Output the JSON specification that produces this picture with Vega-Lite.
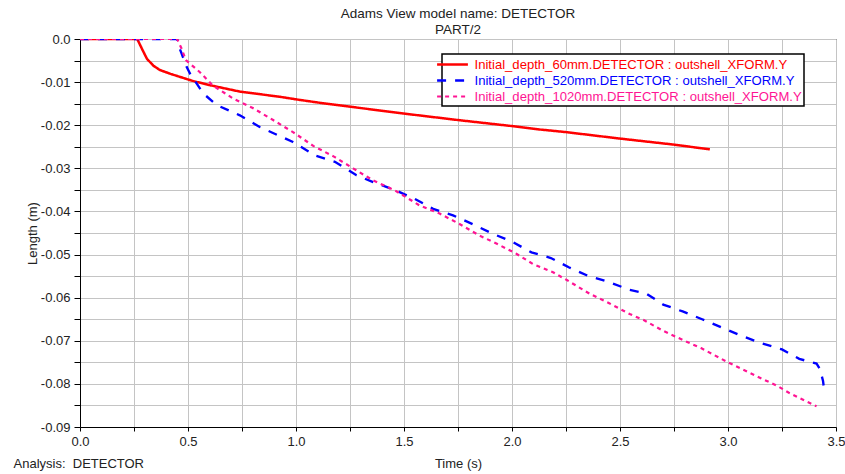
{
  "$schema": "https://vega.github.io/schema/vega-lite/v6.json",
  "width": 756,
  "height": 388,
  "autosize": "none",
  "padding": {"left": 80, "top": 39, "right": 9, "bottom": 47},
  "background": "white",
  "title": {
    "text": ["Adams View model name: DETECTOR", "PART/2"],
    "anchor": "middle",
    "frame": "group",
    "font": "Liberation Sans",
    "fontSize": 13.5,
    "fontWeight": "normal",
    "color": "#222",
    "lineHeight": 16,
    "offset": -3.5
  },
  "config": {
    "view": {"stroke": "black", "strokeWidth": 1},
    "axis": {
      "labelFont": "Liberation Sans",
      "titleFont": "Liberation Sans",
      "labelFontSize": 13,
      "titleFontSize": 13,
      "titleFontWeight": "normal",
      "labelColor": "#222",
      "titleColor": "#222",
      "domainColor": "black",
      "tickColor": "black",
      "gridColor": "#c4c4c4",
      "gridOpacity": 1,
      "gridWidth": 1
    }
  },
  "datasets": {
    "curves": [
      {"series": "Initial_depth_60mm.DETECTOR : outshell_XFORM.Y", "t": 0.0, "y": 0.0},
      {"series": "Initial_depth_60mm.DETECTOR : outshell_XFORM.Y", "t": 0.265, "y": 0.0},
      {"series": "Initial_depth_60mm.DETECTOR : outshell_XFORM.Y", "t": 0.29, "y": -0.0026},
      {"series": "Initial_depth_60mm.DETECTOR : outshell_XFORM.Y", "t": 0.31, "y": -0.0046},
      {"series": "Initial_depth_60mm.DETECTOR : outshell_XFORM.Y", "t": 0.34, "y": -0.0062},
      {"series": "Initial_depth_60mm.DETECTOR : outshell_XFORM.Y", "t": 0.37, "y": -0.0072},
      {"series": "Initial_depth_60mm.DETECTOR : outshell_XFORM.Y", "t": 0.42, "y": -0.0081},
      {"series": "Initial_depth_60mm.DETECTOR : outshell_XFORM.Y", "t": 0.52, "y": -0.0097},
      {"series": "Initial_depth_60mm.DETECTOR : outshell_XFORM.Y", "t": 0.6, "y": -0.0107},
      {"series": "Initial_depth_60mm.DETECTOR : outshell_XFORM.Y", "t": 0.74, "y": -0.0122},
      {"series": "Initial_depth_60mm.DETECTOR : outshell_XFORM.Y", "t": 0.925, "y": -0.0134},
      {"series": "Initial_depth_60mm.DETECTOR : outshell_XFORM.Y", "t": 1.0, "y": -0.014},
      {"series": "Initial_depth_60mm.DETECTOR : outshell_XFORM.Y", "t": 1.11, "y": -0.0148},
      {"series": "Initial_depth_60mm.DETECTOR : outshell_XFORM.Y", "t": 1.25, "y": -0.0157},
      {"series": "Initial_depth_60mm.DETECTOR : outshell_XFORM.Y", "t": 1.5, "y": -0.0173},
      {"series": "Initial_depth_60mm.DETECTOR : outshell_XFORM.Y", "t": 1.75, "y": -0.0188},
      {"series": "Initial_depth_60mm.DETECTOR : outshell_XFORM.Y", "t": 2.0, "y": -0.0202},
      {"series": "Initial_depth_60mm.DETECTOR : outshell_XFORM.Y", "t": 2.13, "y": -0.021},
      {"series": "Initial_depth_60mm.DETECTOR : outshell_XFORM.Y", "t": 2.25, "y": -0.0216},
      {"series": "Initial_depth_60mm.DETECTOR : outshell_XFORM.Y", "t": 2.5, "y": -0.0231},
      {"series": "Initial_depth_60mm.DETECTOR : outshell_XFORM.Y", "t": 2.75, "y": -0.0245},
      {"series": "Initial_depth_60mm.DETECTOR : outshell_XFORM.Y", "t": 2.916, "y": -0.0256},

      {"series": "Initial_depth_520mm.DETECTOR : outshell_XFORM.Y", "t": 0.0, "y": 0.0},
      {"series": "Initial_depth_520mm.DETECTOR : outshell_XFORM.Y", "t": 0.45, "y": 0.0},
      {"series": "Initial_depth_520mm.DETECTOR : outshell_XFORM.Y", "t": 0.455, "y": -0.0014},
      {"series": "Initial_depth_520mm.DETECTOR : outshell_XFORM.Y", "t": 0.47, "y": -0.0033},
      {"series": "Initial_depth_520mm.DETECTOR : outshell_XFORM.Y", "t": 0.493, "y": -0.0064},
      {"series": "Initial_depth_520mm.DETECTOR : outshell_XFORM.Y", "t": 0.509, "y": -0.008},
      {"series": "Initial_depth_520mm.DETECTOR : outshell_XFORM.Y", "t": 0.57, "y": -0.0126},
      {"series": "Initial_depth_520mm.DETECTOR : outshell_XFORM.Y", "t": 0.632, "y": -0.0153},
      {"series": "Initial_depth_520mm.DETECTOR : outshell_XFORM.Y", "t": 0.74, "y": -0.0177},
      {"series": "Initial_depth_520mm.DETECTOR : outshell_XFORM.Y", "t": 0.832, "y": -0.0204},
      {"series": "Initial_depth_520mm.DETECTOR : outshell_XFORM.Y", "t": 0.986, "y": -0.0239},
      {"series": "Initial_depth_520mm.DETECTOR : outshell_XFORM.Y", "t": 1.087, "y": -0.027},
      {"series": "Initial_depth_520mm.DETECTOR : outshell_XFORM.Y", "t": 1.18, "y": -0.0285},
      {"series": "Initial_depth_520mm.DETECTOR : outshell_XFORM.Y", "t": 1.28, "y": -0.0316},
      {"series": "Initial_depth_520mm.DETECTOR : outshell_XFORM.Y", "t": 1.357, "y": -0.0332},
      {"series": "Initial_depth_520mm.DETECTOR : outshell_XFORM.Y", "t": 1.457, "y": -0.035},
      {"series": "Initial_depth_520mm.DETECTOR : outshell_XFORM.Y", "t": 1.55, "y": -0.0371},
      {"series": "Initial_depth_520mm.DETECTOR : outshell_XFORM.Y", "t": 1.635, "y": -0.0394},
      {"series": "Initial_depth_520mm.DETECTOR : outshell_XFORM.Y", "t": 1.727, "y": -0.0409},
      {"series": "Initial_depth_520mm.DETECTOR : outshell_XFORM.Y", "t": 1.82, "y": -0.043},
      {"series": "Initial_depth_520mm.DETECTOR : outshell_XFORM.Y", "t": 1.912, "y": -0.0452},
      {"series": "Initial_depth_520mm.DETECTOR : outshell_XFORM.Y", "t": 2.004, "y": -0.0471},
      {"series": "Initial_depth_520mm.DETECTOR : outshell_XFORM.Y", "t": 2.09, "y": -0.0495},
      {"series": "Initial_depth_520mm.DETECTOR : outshell_XFORM.Y", "t": 2.18, "y": -0.0508},
      {"series": "Initial_depth_520mm.DETECTOR : outshell_XFORM.Y", "t": 2.265, "y": -0.053},
      {"series": "Initial_depth_520mm.DETECTOR : outshell_XFORM.Y", "t": 2.35, "y": -0.0549},
      {"series": "Initial_depth_520mm.DETECTOR : outshell_XFORM.Y", "t": 2.45, "y": -0.0564},
      {"series": "Initial_depth_520mm.DETECTOR : outshell_XFORM.Y", "t": 2.545, "y": -0.0582},
      {"series": "Initial_depth_520mm.DETECTOR : outshell_XFORM.Y", "t": 2.62, "y": -0.059},
      {"series": "Initial_depth_520mm.DETECTOR : outshell_XFORM.Y", "t": 2.7, "y": -0.0616},
      {"series": "Initial_depth_520mm.DETECTOR : outshell_XFORM.Y", "t": 2.79, "y": -0.0632},
      {"series": "Initial_depth_520mm.DETECTOR : outshell_XFORM.Y", "t": 2.88, "y": -0.065},
      {"series": "Initial_depth_520mm.DETECTOR : outshell_XFORM.Y", "t": 2.97, "y": -0.0669},
      {"series": "Initial_depth_520mm.DETECTOR : outshell_XFORM.Y", "t": 3.06, "y": -0.0688},
      {"series": "Initial_depth_520mm.DETECTOR : outshell_XFORM.Y", "t": 3.15, "y": -0.0705},
      {"series": "Initial_depth_520mm.DETECTOR : outshell_XFORM.Y", "t": 3.25, "y": -0.072},
      {"series": "Initial_depth_520mm.DETECTOR : outshell_XFORM.Y", "t": 3.33, "y": -0.0742},
      {"series": "Initial_depth_520mm.DETECTOR : outshell_XFORM.Y", "t": 3.41, "y": -0.0753},
      {"series": "Initial_depth_520mm.DETECTOR : outshell_XFORM.Y", "t": 3.425, "y": -0.0765},
      {"series": "Initial_depth_520mm.DETECTOR : outshell_XFORM.Y", "t": 3.44, "y": -0.0793},
      {"series": "Initial_depth_520mm.DETECTOR : outshell_XFORM.Y", "t": 3.445, "y": -0.0814},

      {"series": "Initial_depth_1020mm.DETECTOR : outshell_XFORM.Y", "t": 0.0, "y": 0.0},
      {"series": "Initial_depth_1020mm.DETECTOR : outshell_XFORM.Y", "t": 0.45, "y": 0.0},
      {"series": "Initial_depth_1020mm.DETECTOR : outshell_XFORM.Y", "t": 0.47, "y": -0.0022},
      {"series": "Initial_depth_1020mm.DETECTOR : outshell_XFORM.Y", "t": 0.49, "y": -0.0049},
      {"series": "Initial_depth_1020mm.DETECTOR : outshell_XFORM.Y", "t": 0.555, "y": -0.0077},
      {"series": "Initial_depth_1020mm.DETECTOR : outshell_XFORM.Y", "t": 0.615, "y": -0.0108},
      {"series": "Initial_depth_1020mm.DETECTOR : outshell_XFORM.Y", "t": 0.709, "y": -0.0138},
      {"series": "Initial_depth_1020mm.DETECTOR : outshell_XFORM.Y", "t": 0.8, "y": -0.016},
      {"series": "Initial_depth_1020mm.DETECTOR : outshell_XFORM.Y", "t": 0.894, "y": -0.0188},
      {"series": "Initial_depth_1020mm.DETECTOR : outshell_XFORM.Y", "t": 0.986, "y": -0.0216},
      {"series": "Initial_depth_1020mm.DETECTOR : outshell_XFORM.Y", "t": 1.08, "y": -0.0248},
      {"series": "Initial_depth_1020mm.DETECTOR : outshell_XFORM.Y", "t": 1.18, "y": -0.0274},
      {"series": "Initial_depth_1020mm.DETECTOR : outshell_XFORM.Y", "t": 1.264, "y": -0.03},
      {"series": "Initial_depth_1020mm.DETECTOR : outshell_XFORM.Y", "t": 1.357, "y": -0.0328},
      {"series": "Initial_depth_1020mm.DETECTOR : outshell_XFORM.Y", "t": 1.457, "y": -0.0351},
      {"series": "Initial_depth_1020mm.DETECTOR : outshell_XFORM.Y", "t": 1.572, "y": -0.0386},
      {"series": "Initial_depth_1020mm.DETECTOR : outshell_XFORM.Y", "t": 1.665, "y": -0.0405},
      {"series": "Initial_depth_1020mm.DETECTOR : outshell_XFORM.Y", "t": 1.757, "y": -0.0429},
      {"series": "Initial_depth_1020mm.DETECTOR : outshell_XFORM.Y", "t": 1.85, "y": -0.0456},
      {"series": "Initial_depth_1020mm.DETECTOR : outshell_XFORM.Y", "t": 1.93, "y": -0.0475},
      {"series": "Initial_depth_1020mm.DETECTOR : outshell_XFORM.Y", "t": 2.02, "y": -0.0498},
      {"series": "Initial_depth_1020mm.DETECTOR : outshell_XFORM.Y", "t": 2.097, "y": -0.0522},
      {"series": "Initial_depth_1020mm.DETECTOR : outshell_XFORM.Y", "t": 2.19, "y": -0.0541},
      {"series": "Initial_depth_1020mm.DETECTOR : outshell_XFORM.Y", "t": 2.25, "y": -0.0558},
      {"series": "Initial_depth_1020mm.DETECTOR : outshell_XFORM.Y", "t": 2.36, "y": -0.0591},
      {"series": "Initial_depth_1020mm.DETECTOR : outshell_XFORM.Y", "t": 2.45, "y": -0.0613},
      {"series": "Initial_depth_1020mm.DETECTOR : outshell_XFORM.Y", "t": 2.545, "y": -0.0638},
      {"series": "Initial_depth_1020mm.DETECTOR : outshell_XFORM.Y", "t": 2.61, "y": -0.0652},
      {"series": "Initial_depth_1020mm.DETECTOR : outshell_XFORM.Y", "t": 2.7, "y": -0.0677},
      {"series": "Initial_depth_1020mm.DETECTOR : outshell_XFORM.Y", "t": 2.79, "y": -0.0698},
      {"series": "Initial_depth_1020mm.DETECTOR : outshell_XFORM.Y", "t": 2.875, "y": -0.0717},
      {"series": "Initial_depth_1020mm.DETECTOR : outshell_XFORM.Y", "t": 3.0, "y": -0.075},
      {"series": "Initial_depth_1020mm.DETECTOR : outshell_XFORM.Y", "t": 3.14, "y": -0.0784},
      {"series": "Initial_depth_1020mm.DETECTOR : outshell_XFORM.Y", "t": 3.23, "y": -0.0805},
      {"series": "Initial_depth_1020mm.DETECTOR : outshell_XFORM.Y", "t": 3.28, "y": -0.082},
      {"series": "Initial_depth_1020mm.DETECTOR : outshell_XFORM.Y", "t": 3.36, "y": -0.084},
      {"series": "Initial_depth_1020mm.DETECTOR : outshell_XFORM.Y", "t": 3.41, "y": -0.0852}
    ]
  },
  "data": {"name": "curves"},
  "layer": [
    {
      "mark": {"type": "line", "opacity": 0},
      "encoding": {
        "x": {
          "field": "t", "type": "quantitative",
          "scale": {"domain": [0, 3.5], "nice": false, "zero": false},
          "axis": {
            "orient": "bottom",
            "title": "Analysis:\u00a0 DETECTOR",
            "values": [0, 0.25, 0.5, 0.75, 1, 1.25, 1.5, 1.75, 2, 2.25, 2.5, 2.75, 3, 3.25, 3.5],
            "labels": false, "ticks": false, "domain": false,
            "grid": true,
            "gridColor": "#c4c4c4",
            "gridOpacity": 1,
            "gridWidth": 1,
            "titleAnchor": "start",
            "titleAlign": "left",
            "titleX": -67,
            "titleY": 30
          }
        },
        "y": {
          "field": "y", "type": "quantitative",
          "scale": {"domain": [-0.09, 0], "nice": false, "zero": false},
          "axis": {
            "orient": "left",
            "title": null,
            "values": [0, -0.005, -0.01, -0.015, -0.02, -0.025, -0.03, -0.035, -0.04, -0.045, -0.05, -0.055, -0.06, -0.065, -0.07, -0.075, -0.08, -0.085, -0.09],
            "labels": false, "ticks": false, "domain": false,
            "grid": true,
            "gridColor": "#c4c4c4",
            "gridOpacity": 1,
            "gridWidth": 1
          }
        },
        "detail": {"field": "series"}
      }
    },
    {
      "mark": {"type": "line", "clip": true},
      "encoding": {
        "x": {
          "field": "t", "type": "quantitative",
          "scale": {"domain": [0, 3.5], "nice": false, "zero": false},
          "axis": {
            "orient": "bottom",
            "title": "Time (s)",
            "titlePadding": 9,
            "values": [0, 0.25, 0.5, 0.75, 1, 1.25, 1.5, 1.75, 2, 2.25, 2.5, 2.75, 3, 3.25, 3.5],
            "labelExpr": "round(datum.value*4) % 2 == 0 ? format(datum.value, '.1f') : ''",
            "tickSize": 4,
            "labelPadding": 4,
            "labelFlush": false,
            "labelOverlap": false,
            "grid": false
          }
        },
        "y": {
          "field": "y", "type": "quantitative",
          "scale": {"domain": [-0.09, 0], "nice": false, "zero": false},
          "axis": {
            "orient": "left",
            "title": "Length (m)",
            "titlePadding": 1,
            "values": [0, -0.005, -0.01, -0.015, -0.02, -0.025, -0.03, -0.035, -0.04, -0.045, -0.05, -0.055, -0.06, -0.065, -0.07, -0.075, -0.08, -0.085, -0.09],
            "labelExpr": "round(datum.value*200) % 2 == 0 ? (datum.value == 0 ? '0.0' : '-0.0' + toString(round(-datum.value*100))) : ''",
            "tickSize": 6,
            "labelPadding": 4,
            "labelFlush": false,
            "labelOverlap": false,
            "grid": false
          }
        },
        "color": {
          "field": "series", "type": "nominal",
          "scale": {
            "domain": ["Initial_depth_60mm.DETECTOR : outshell_XFORM.Y", "Initial_depth_520mm.DETECTOR : outshell_XFORM.Y", "Initial_depth_1020mm.DETECTOR : outshell_XFORM.Y"],
            "range": ["#ff0000", "#0000ff", "#ff1493"]
          },
          "legend": {
            "title": null,
            "orient": "none",
            "legendX": 362,
            "legendY": 15,
            "strokeColor": "black",
            "fillColor": "white",
            "padding": 2,
            "symbolType": "M-2.2,0H2.2",
            "symbolSize": 196,
            "symbolStrokeWidth": 2,
            "labelFont": "Liberation Sans",
            "labelFontSize": 13.1,
            "labelOffset": 13.5,
            "labelLimit": 500,
            "rowPadding": 0,
            "encode": {
              "labels": {"update": {"fill": {"scale": "color", "field": "value"}}},
              "legend": {"update": {"strokeWidth": {"value": 1.5}}}
            }
          }
        },
        "strokeDash": {
          "field": "series", "type": "nominal",
          "scale": {
            "domain": ["Initial_depth_60mm.DETECTOR : outshell_XFORM.Y", "Initial_depth_520mm.DETECTOR : outshell_XFORM.Y", "Initial_depth_1020mm.DETECTOR : outshell_XFORM.Y"],
            "range": [[1, 0], [9, 9], [4, 4]]
          },
          "legend": null
        },
        "strokeWidth": {
          "field": "series", "type": "nominal",
          "scale": {
            "domain": ["Initial_depth_60mm.DETECTOR : outshell_XFORM.Y", "Initial_depth_520mm.DETECTOR : outshell_XFORM.Y", "Initial_depth_1020mm.DETECTOR : outshell_XFORM.Y"],
            "range": [2.5, 2.2, 2.2]
          },
          "legend": null
        }
      }
    }
  ],
  "resolve": {"axis": {"x": "independent", "y": "independent"}}
}
